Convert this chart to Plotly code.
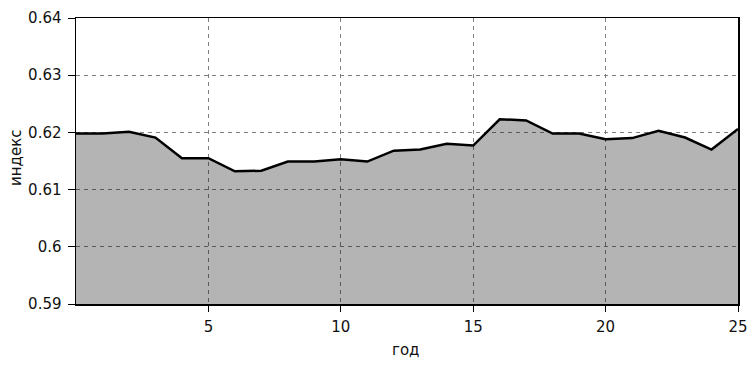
import plotly.graph_objects as go

years = list(range(0, 26))
index_values = [0.6198, 0.6198, 0.6201, 0.6191, 0.6155, 0.6155, 0.6132, 0.6133,
                0.6149, 0.6149, 0.6153, 0.6149, 0.6168, 0.6170, 0.6180, 0.6177,
                0.6223, 0.6221, 0.6198, 0.6198, 0.6188, 0.6190, 0.6203, 0.6191,
                0.6170, 0.6206]
x_ticks = [5, 10, 15, 20, 25]
y_ticks = [0.59, 0.6, 0.61, 0.62, 0.63, 0.64]
y_tick_labels = ["0.59", "0.6", "0.61", "0.62", "0.63", "0.64"]
x_title = "год"
y_title = "индекс"

W, H = 751, 370
ML, MR, MT, MB = 76, 13, 18, 66

font = dict(family="DejaVu Sans, Verdana, sans-serif", size=15, color="#111111")

fig = go.Figure()
fig.add_trace(go.Scatter(
    x=years, y=index_values, mode="lines",
    line=dict(color="#000000", width=2.5),
    fill="tozeroy", fillcolor="rgba(0,0,0,0.295)",
    hoverinfo="skip", showlegend=False,
))

axis_common = dict(
    showline=True, linecolor="#000000", linewidth=1.5, mirror=True,
    ticks="outside", tickcolor="#000000", tickwidth=1,
    showgrid=True, gridcolor="#808080", gridwidth=1, griddash="4px,4px",
    zeroline=False, tickfont=font, automargin=False,
)

fig.update_layout(
    width=W, height=H,
    margin=dict(l=ML, r=MR, t=MT, b=MB, autoexpand=False),
    paper_bgcolor="#ffffff", plot_bgcolor="#ffffff",
    font=font,
    xaxis=dict(range=[0, 25], tickvals=x_ticks, ticktext=[str(v) for v in x_ticks],
               ticklen=6, ticklabelstandoff=2, **axis_common),
    yaxis=dict(range=[0.59, 0.64], tickvals=y_ticks, ticktext=y_tick_labels,
               ticklen=7, ticklabelstandoff=3, **axis_common),
)

plot_h = H - MT - MB
fig.add_annotation(text=x_title, xref="paper", yref="paper",
                   x=(405 - ML) / (W - ML - MR), y=-(350 - (H - MB)) / plot_h,
                   xanchor="center", yanchor="middle", showarrow=False, font=font)
fig.add_annotation(text=y_title, xref="paper", yref="paper",
                   x=-(ML - 16) / (W - ML - MR), y=(H - MB - 158) / plot_h, textangle=-90,
                   xanchor="center", yanchor="middle", showarrow=False, font=font)

fig.write_html("out.html", config={"displayModeBar": False, "staticPlot": True},
               post_script="document.body.style.margin='0';document.body.style.overflow='hidden';")
